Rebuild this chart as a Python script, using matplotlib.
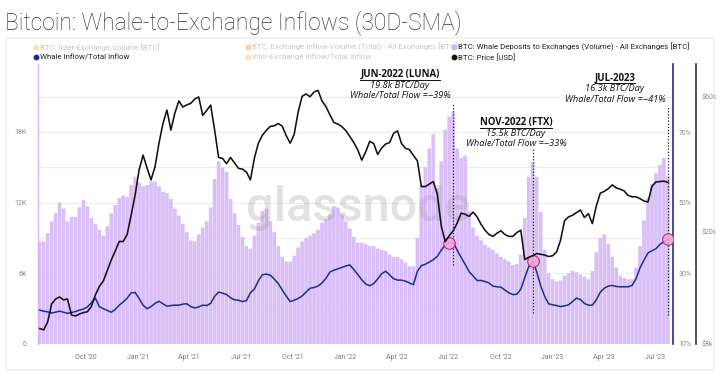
import matplotlib
matplotlib.use('Agg')
import matplotlib.pyplot as plt
import matplotlib.dates as mdates
import matplotlib.ticker as mticker
from matplotlib.lines import Line2D
from matplotlib.patches import FancyBboxPatch
import pandas as pd

plt.rcParams['font.family'] = ['Roboto', 'DejaVu Sans']

# ---------------- data (weekly readings of the 30D-SMA series) ----------------
week_start = '2020-07-12'
n_weeks = 159

# BTC: Whale Deposits to Exchanges (Volume) - All Exchanges [thousand BTC]
whale_deposits_k = [
    8.7, 8.7, 9.4, 10.4, 11.1, 12.0, 11.5, 10.4, 10.8, 10.8,
    11.6, 12.2, 11.7, 10.7, 10.2, 9.7, 9.2, 10.0, 11.1, 11.8,
    12.4, 12.6, 12.5, 13.5, 14.2, 13.7, 13.4, 13.5, 13.8, 13.8,
    13.4, 12.9, 12.8, 12.3, 11.5, 10.9, 10.2, 9.5, 8.8, 8.7,
    9.3, 9.9, 10.4, 11.6, 14.0, 15.5, 15.0, 14.6, 12.3, 11.1,
    10.1, 9.1, 8.3, 8.1, 9.2, 10.3, 11.3, 11.5, 10.4, 9.5,
    8.3, 7.4, 7.0, 7.0, 7.5, 8.2, 8.7, 9.0, 9.2, 9.4,
    9.7, 10.3, 10.6, 11.0, 11.7, 11.6, 11.0, 10.4, 9.8, 9.1,
    8.6, 8.6, 8.5, 8.3, 8.3, 8.1, 8.0, 7.9, 7.6, 7.4,
    7.4, 7.2, 6.9, 6.6, 6.6, 9.0, 13.5, 15.0, 16.6, 17.8,
    13.2, 15.5, 18.2, 19.3, 19.7, 16.6, 15.8, 16.0, 11.3, 9.9,
    9.2, 8.8, 8.4, 8.2, 8.0, 7.7, 7.4, 7.2, 7.0, 6.7,
    6.8, 7.6, 10.7, 14.2, 15.4, 14.2, 11.2, 8.0, 6.0, 5.5,
    5.3, 5.4, 5.8, 6.0, 6.2, 6.1, 5.9, 5.7, 5.5, 6.2,
    7.8, 9.0, 9.3, 8.5, 7.4, 6.5, 5.8, 5.6, 5.5, 5.5,
    6.5, 8.3, 10.5, 12.4, 13.6, 14.5, 15.2, 15.8, 14.2,
]

# Whale Inflow / Total Inflow [%]
whale_ratio_pct = [
    19.6, 19.3, 19.1, 18.8, 19.0, 19.3, 19.0, 18.7, 18.9, 19.2,
    19.6, 19.9, 20.5, 21.7, 23.0, 20.6, 20.0, 19.5, 19.0, 19.8,
    21.0, 21.9, 23.0, 24.5, 24.6, 22.9, 21.0, 20.0, 20.6, 21.5,
    22.1, 21.4, 20.7, 20.9, 21.0, 21.0, 21.3, 21.4, 20.6, 20.2,
    20.5, 21.0, 20.9, 21.5, 23.5, 24.7, 24.4, 24.0, 23.1, 22.5,
    22.4, 22.0, 22.3, 24.5, 25.6, 27.9, 29.6, 29.8, 29.5, 28.4,
    27.1, 25.3, 23.6, 22.0, 22.4, 22.9, 23.6, 24.7, 25.8, 26.0,
    26.4, 27.3, 28.6, 30.4, 30.9, 31.3, 31.7, 32.1, 32.4, 31.1,
    29.7, 28.2, 27.0, 26.5, 27.1, 28.4, 29.9, 30.6, 29.6, 28.5,
    28.1, 28.1, 27.8, 27.3, 26.8, 30.6, 32.2, 32.6, 33.2, 33.9,
    34.8, 36.6, 38.0, 38.7, 38.7, 36.6, 34.5, 32.6, 30.5, 29.3,
    28.0, 28.0, 27.7, 27.3, 26.4, 26.2, 26.1, 25.3, 24.5, 24.0,
    24.1, 25.5, 28.8, 31.9, 33.5, 30.5, 26.5, 23.5, 21.4, 21.1,
    20.9, 20.6, 20.8, 21.1, 22.0, 23.0, 22.6, 21.5, 21.0, 21.0,
    22.5, 24.7, 25.8, 26.4, 26.6, 26.3, 26.2, 26.2, 26.2, 26.6,
    28.5, 31.6, 33.8, 35.8, 36.4, 37.0, 38.2, 39.0, 39.7,
]

# BTC: Price [thousand USD]
price_k = [
    9.07, 8.97, 9.57, 11.07, 11.54, 11.73, 11.45, 11.54, 10.13, 10.05,
    10.21, 10.33, 10.40, 10.86, 11.92, 12.77, 13.36, 14.55, 15.85, 17.05,
    18.42, 18.42, 19.50, 22.85, 26.9, 32.96, 37.2, 33.5, 30.4, 33.8,
    41.0, 48.1, 53.7, 45.6, 52.4, 57.8, 55.0, 56.0, 56.7, 58.7,
    59.7, 51.4, 53.5, 55.9, 45.6, 36.5, 36.2, 34.7, 36.5, 34.9,
    33.4, 33.2, 32.4, 30.4, 36.3, 41.0, 43.7, 45.5, 47.0, 47.2,
    48.1, 47.1, 43.6, 41.0, 44.0, 52.8, 60.0, 61.2, 59.8, 62.2,
    63.0, 57.8, 55.2, 51.6, 48.5, 47.9, 46.9, 45.4, 43.3, 41.2,
    38.8, 35.7, 38.2, 41.6, 40.9, 37.4, 39.4, 40.7, 41.2, 44.4,
    45.3, 40.9, 39.3, 38.9, 37.1, 35.5, 28.8, 28.8, 29.4, 30.0,
    27.1, 20.9, 18.4, 19.3, 20.1, 21.4, 23.2, 23.0, 22.6, 23.4,
    22.5, 21.2, 20.2, 19.5, 19.2, 19.7, 20.1, 19.5, 19.2, 19.2,
    19.8, 20.2, 15.9, 16.2, 16.4, 16.7, 16.6, 16.5, 16.3, 16.4,
    16.9, 18.6, 21.8, 22.5, 22.8, 23.3, 23.8, 22.4, 23.1, 21.3,
    24.6, 27.3, 27.7, 28.3, 29.2, 28.5, 28.2, 27.8, 26.8, 26.5,
    26.5, 26.1, 25.6, 25.4, 28.9, 29.9, 30.0, 30.1, 29.8,
]

left_ticks = [0, 6, 12, 18]
left_labels = ['0', '6K', '12K', '18K']
pct_ticks = [10, 30, 50, 70]
price_ticks = [8, 20, 60]
price_labels = ['$8k', '$20k', '$60k']

events = [
    # header, line 2, line 3, marker date, line date
    ('JUN-2022 (LUNA)', '19.8k BTC/Day', 'Whale/Total Flow =~39%', '2022-07-03', '2022-07-10'),
    ('NOV-2022 (FTX)', '15.5k BTC/Day', 'Whale/Total Flow =~33%', '2022-11-27', '2022-11-27'),
    ('JUL-2023', '16.3k BTC/Day', 'Whale/Total Flow =~41%', '2023-07-23', '2023-07-23'),
]

dates = pd.date_range(week_start, periods=n_weeks, freq='7D')
s_ratio = pd.Series(whale_ratio_pct, index=dates)

# ---------------- figure ----------------
W, H = 720, 377
fig = plt.figure(figsize=(W / 100, H / 100), dpi=100)
fig.patch.set_facecolor('white')

def fx(px):
    return px / W

def fy(py):
    return 1 - py / H

# panel frame
fig.patches.append(FancyBboxPatch((fx(6), fy(370)), fx(708), (370 - 38) / H,
                                  boxstyle='round,pad=0,rounding_size=0.004',
                                  transform=fig.transFigure, facecolor='none',
                                  edgecolor='#e8e8e8', linewidth=0.8))

fig.text(fx(5), fy(29.5), 'Bitcoin: Whale-to-Exchange Inflows (30D-SMA)',
         fontsize=16.4, color='#333333', va='baseline', ha='left', fontweight='light')

ax_l, ax_r, ax_t, ax_b = 38, 673, 64, 344
ax = fig.add_axes([fx(ax_l), fy(ax_b), (ax_r - ax_l) / W, (ax_b - ax_t) / H])

PX_PER_K = 11.78
PX_PER_PCT = 3.53
PX_PER_DEC = 283.0
plot_h = ax_b - ax_t

# bars
ax.bar(dates, whale_deposits_k, width=6.4, color='#d9bef7', linewidth=0, zorder=2, snap=False)
ax.set_ylim(0, plot_h / PX_PER_K)
ax.set_xlim(pd.Timestamp('2020-07-09'), pd.Timestamp('2023-08-01'))
ax.set_yticks([3 * i for i in range(8)])
ax.yaxis.set_major_formatter(mticker.FuncFormatter(
    lambda v, p: left_labels[left_ticks.index(int(round(v)))] if int(round(v)) in left_ticks else ''))
ax.grid(axis='y', color='#ececec', linewidth=0.8, zorder=0)
ax.set_axisbelow(True)
ax.tick_params(axis='y', length=0, pad=8, labelsize=5, labelcolor='#8a8a8a')
ax.xaxis.set_major_locator(mdates.MonthLocator(bymonth=[1, 4, 7, 10]))
ax.xaxis.set_major_formatter(mdates.DateFormatter("%b '%y"))
ax.tick_params(axis='x', length=0, pad=7, labelsize=5, labelcolor='#7a7a7a')
for s in ['top', 'right', 'bottom']:
    ax.spines[s].set_visible(False)
ax.spines['left'].set_color('#dcb0f2')
ax.spines['left'].set_linewidth(1.0)

# watermark
ax.text(0.505, 0.485, 'glassnode', transform=ax.transAxes, ha='center', va='center',
        fontsize=35, color='#a0a0a0', alpha=0.3, zorder=3, fontweight='medium')

# ratio axis
ax2 = ax.twinx()
ax2.plot(dates, whale_ratio_pct, color='#1f2d8f', linewidth=1.1, zorder=3)
ax2.set_ylim(10, 10 + plot_h / PX_PER_PCT)
ax2.set_yticks(pct_ticks)
ax2.yaxis.set_major_formatter(mticker.FuncFormatter(lambda v, p: f'{int(v)}%'))
ax2.tick_params(axis='y', length=0, pad=4, labelsize=5, labelcolor='#8a8a8a')
for s in ['top', 'left', 'bottom']:
    ax2.spines[s].set_visible(False)
ax2.spines['right'].set_color('#1f2d8f')
ax2.spines['right'].set_linewidth(1.2)

# price axis
ax3 = ax.twinx()
ax3.set_yscale('log')
ax3.plot(dates, price_k, color='#111111', linewidth=1.15, zorder=4)
ax3.set_ylim(8, 8 * 10 ** (plot_h / PX_PER_DEC))
ax3.set_yticks(price_ticks)
ax3.yaxis.set_minor_locator(mticker.NullLocator())
ax3.set_yticklabels(price_labels)
ax3.tick_params(axis='y', length=0, pad=4, labelsize=5, labelcolor='#8a8a8a')
for s in ['top', 'left', 'bottom']:
    ax3.spines[s].set_visible(False)
ax3.spines['right'].set_position(('axes', (696 - ax_l) / (ax_r - ax_l)))
ax3.spines['right'].set_color('#333333')
ax3.spines['right'].set_linewidth(1.2)

# event markers, dotted lines
line_spans = [(20.5, 6.7), (16.6, 2.6), (20.1, 2.5)]
for (h, l2, l3, mdate, ldate), (ytop, ybot) in zip(events, line_spans):
    md = pd.Timestamp(mdate)
    ax2.scatter([md], [s_ratio[md]], s=70, facecolor='#f3a6dc', edgecolor='#a8285f',
                linewidth=0.8, alpha=0.9, zorder=6)
    ax.plot([pd.Timestamp(ldate)] * 2, [ybot, ytop], linestyle=(0, (1, 1.5)),
            color='#222222', linewidth=0.9, zorder=5)

# event text
ann_font = ['Open Sans', 'DejaVu Sans']
text_pos = [(400, 74.5, 85.5, 95.5), (516, 122.5, 133, 143), (615, 78, 88.5, 99)]
fig.canvas.draw()
renderer = fig.canvas.get_renderer()
for (h, l2, l3, _, _), (cx, y1, y2, y3) in zip(events, text_pos):
    t = fig.text(fx(cx), fy(y1), h, ha='center', va='center', fontsize=6.9,
                 fontweight='bold', color='#111111', zorder=10, family=ann_font)
    fig.text(fx(cx), fy(y2), l2, ha='center', va='center', fontsize=6.7,
             style='italic', color='#111111', zorder=10, family=ann_font)
    fig.text(fx(cx), fy(y3), l3, ha='center', va='center', fontsize=6.7,
             style='italic', color='#111111', zorder=10, family=ann_font)
    bb = t.get_window_extent(renderer)
    fig.add_artist(Line2D([bb.x0 / W, bb.x1 / W], [fy(y1 + 5.3)] * 2,
                          transform=fig.transFigure, color='#111111', linewidth=0.7))

# legend
legend_items = [
    (36, 47, '#f2d24b', 'BTC: Inter-Exchange Volume [BTC]', True),
    (36, 57, '#1f2d8f', 'Whale Inflow/Total Inflow', False),
    (248, 47, '#f5a25a', 'BTC: Exchange Inflow Volume (Total) - All Exchanges [BTC]', True),
    (248, 57, '#f8c98f', 'Inter-Exchange Inflow/Total Inflow', True),
    (454, 47, '#c9b8f5', 'BTC: Whale Deposits to Exchanges (Volume) - All Exchanges [BTC]', False),
    (454, 57, '#111111', 'BTC: Price [USD]', False),
]
for x0, y0, c, label, faded in legend_items:
    fig.add_artist(Line2D([fx(x0)], [fy(y0)], marker='o', markersize=3.2, linestyle='none',
                          color=c, alpha=0.45 if faded else 1.0, transform=fig.transFigure))
    fig.text(fx(x0 + 4), fy(y0), label, fontsize=5.7, va='center', ha='left',
             color='#c9c9c9' if faded else '#222222')

fig.savefig('out.png', dpi=100, facecolor='white')
